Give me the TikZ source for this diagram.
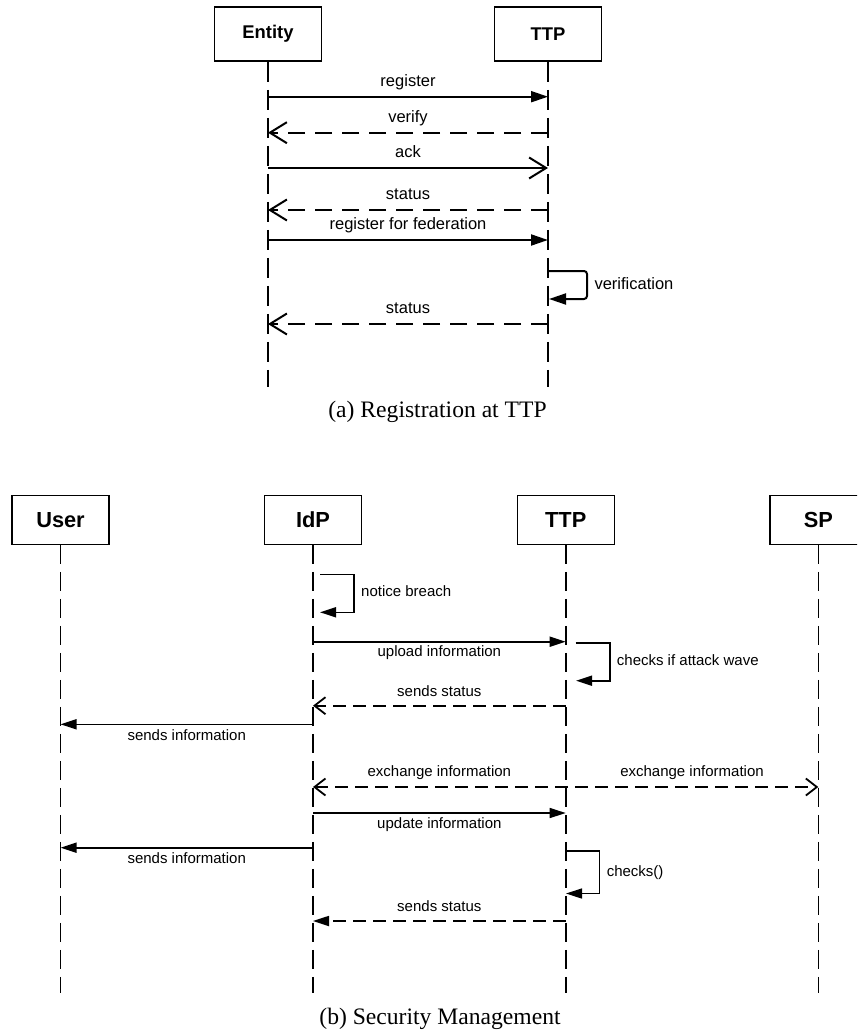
\documentclass[tikz,border=0pt]{standalone}
\usepackage{fontspec}
\setmainfont{Liberation Serif}
\setsansfont{Liberation Sans}
\usetikzlibrary{arrows.meta,calc}
\tikzset{
  boxA/.style={draw, line width=1.6pt, minimum width=107pt, minimum height=54pt, inner sep=0pt,
    font=\sffamily\bfseries\fontsize{18.4}{22}\selectfont},
  boxB/.style={draw, line width=1.4pt, minimum width=97pt, minimum height=48.5pt, inner sep=0pt,
    font=\sffamily\bfseries\fontsize{21.8}{26}\selectfont},
  lifeA/.style={line width=2pt, dash pattern=on 20pt off 8pt},
  lifeB/.style={line width=1.6pt, dash pattern=on 19pt off 8pt},
  lblA/.style={font=\sffamily\fontsize{16.5}{19}\selectfont, inner sep=0pt, anchor=base},
  lblB/.style={font=\sffamily\fontsize{15}{18}\selectfont, inner sep=0pt, anchor=base},
  capt/.style={font=\fontsize{23.6}{28}\selectfont, inner sep=0pt, anchor=base},
  syncA/.style={line width=2pt, -{Triangle[length=17pt,width=11pt]}},
  openA/.style={line width=2pt, -{Straight Barb[length=17pt,width=21pt]}},
  retA/.style={line width=2pt, dash pattern=on 17pt off 10pt, -{Straight Barb[length=17pt,width=21pt]}},
  syncB/.style={line width=1.6pt, -{Triangle[length=16pt,width=10pt]}},
  retB/.style={line width=1.8pt, dash pattern=on 13pt off 7pt, -{Straight Barb[length=11pt,width=17pt]}},
  retBf/.style={line width=1.8pt, dash pattern=on 13pt off 7pt, -{Triangle[length=16pt,width=10pt]}},
  biB/.style={line width=1.8pt, dash pattern=on 13pt off 7pt, {Straight Barb[length=11pt,width=17pt]}-{Straight Barb[length=11pt,width=17pt]}},
}
\begin{document}
\begin{tikzpicture}[x=1pt,y=-1pt]
\clip (0,0) rectangle (857,1032);
% ---------------- (a) ----------------
\node[boxA] (ent) at (268,34) {Entity};
\node[boxA] (ttpa) at (548,34) {TTP};
\coordinate (entEnd) at (268,387);
\coordinate (ttpaEnd) at (548,387);
\draw[lifeA] (ent.south) -- (entEnd);
\draw[lifeA] (ttpa.south) -- (ttpaEnd);

\coordinate (a1s) at (268,96.7);  \coordinate (a1e) at (548,96.7);
\draw[syncA] (a1s) -- node[lblA, midway, yshift=10pt] {register} (a1e);
\coordinate (a2s) at (548,132.7); \coordinate (a2e) at (268,132.7);
\draw[retA] (a2s) -- node[lblA, midway, yshift=10pt] {verify} (a2e);
\coordinate (a3s) at (268,168);   \coordinate (a3e) at (548,168);
\draw[openA] (a3s) -- node[lblA, midway, yshift=10pt] {ack} (a3e);
\coordinate (a4s) at (548,210);   \coordinate (a4e) at (268,210);
\draw[retA] (a4s) -- node[lblA, midway, yshift=10.5pt] {status} (a4e);
\coordinate (a5s) at (268,240);   \coordinate (a5e) at (548,240);
\draw[syncA] (a5s) -- node[lblA, midway, yshift=10.5pt] {register for federation} (a5e);
\coordinate (a6s) at (548,271);   \coordinate (a6a) at (587,271);
\coordinate (a6b) at (587,299);   \coordinate (a6e) at (549,299);
\draw[syncA, rounded corners=3pt] (a6s) -- (a6a) -- (a6b) -- (a6e);
\node[lblA, anchor=base west] (verif) at (594.3,289) {verification};
\coordinate (a7s) at (548,324);   \coordinate (a7e) at (268,324);
\draw[retA] (a7s) -- node[lblA, midway, yshift=10.5pt] {status} (a7e);

\node[capt] (capa) at (437.5,417.7) {(a) Registration at TTP};

% ---------------- (b) ----------------
\node[boxB] (user) at (60.5,520) {User};
\node[boxB] (idp) at (313,520) {IdP};
\node[boxB] (ttpb) at (565.7,520) {TTP};
\node[boxB] (sp) at (818.3,520) {SP};
\coordinate (userEnd) at (60.5,993);
\coordinate (idpEnd) at (313,993);
\coordinate (ttpbEnd) at (565.7,993);
\coordinate (spEnd) at (818.3,993);
\draw[lifeB] (user.south) -- (userEnd);
\draw[lifeB] (idp.south) -- (idpEnd);
\draw[lifeB] (ttpb.south) -- (ttpbEnd);
\draw[lifeB] (sp.south) -- (spEnd);

% notice breach
\coordinate (b1s) at (320,574.3); \coordinate (b1a) at (354,574.3);
\coordinate (b1b) at (354,612.3); \coordinate (b1e) at (320,612.3);
\draw[syncB] (b1s) -- (b1a) -- (b1b) -- (b1e);
\node[lblB, anchor=base west] (nb) at (361,596.5) {notice breach};
% upload information
\coordinate (b2s) at (313,641.7); \coordinate (b2e) at (565.7,641.7);
\draw[syncB] (b2s) -- node[lblB, midway, yshift=-14.5pt] {upload information} (b2e);
% checks if attack wave
\coordinate (b3s) at (575.7,643); \coordinate (b3a) at (610,643);
\coordinate (b3b) at (610,680.7); \coordinate (b3e) at (576,680.7);
\draw[syncB] (b3s) -- (b3a) -- (b3b) -- (b3e);
\node[lblB, anchor=base west] (cw) at (616.7,665) {checks if attack wave};
% sends status
\coordinate (b4s) at (565.7,705.7); \coordinate (b4e) at (313,705.7);
\draw[retB] (b4s) -- node[lblB, midway, yshift=9.7pt] {sends status} (b4e);
% sends information
\coordinate (b5s) at (313,724.3); \coordinate (b5e) at (60.5,724.3);
\draw[syncB] (b5s) -- node[lblB, midway, yshift=-16pt] {sends information} (b5e);
% exchange information
\coordinate (b6s) at (313,787); \coordinate (b6m) at (565.7,787); \coordinate (b6e) at (818.3,787);
\draw[biB] (b6s) -- (b6e);
\node[lblB] (ex1) at ($(b6s)!0.5!(b6m)+(0,-11)$) {exchange information};
\node[lblB] (ex2) at ($(b6m)!0.5!(b6e)+(0,-11)$) {exchange information};
% update information
\coordinate (b7s) at (313,813); \coordinate (b7e) at (565.7,813);
\draw[syncB] (b7s) -- node[lblB, midway, yshift=-15.5pt] {update information} (b7e);
% sends information
\coordinate (b8s) at (313,847.7); \coordinate (b8e) at (60.5,847.7);
\draw[syncB] (b8s) -- node[lblB, midway, yshift=-15.5pt] {sends information} (b8e);
% checks()
\coordinate (b9s) at (565.7,850.7); \coordinate (b9a) at (599.5,850.7);
\coordinate (b9b) at (599.5,893.5); \coordinate (b9e) at (566,893.5);
\draw[syncB] (b9s) -- (b9a) -- (b9b) -- (b9e);
\node[lblB, anchor=base west] (ck) at (606.6,876) {checks()};
% sends status
\coordinate (b10s) at (565.7,921); \coordinate (b10e) at (313,921);
\draw[retBf] (b10s) -- node[lblB, midway, yshift=10pt] {sends status} (b10e);

\node[capt] (capb) at (440,1024) {(b) Security Management};
\end{tikzpicture}
\end{document}
